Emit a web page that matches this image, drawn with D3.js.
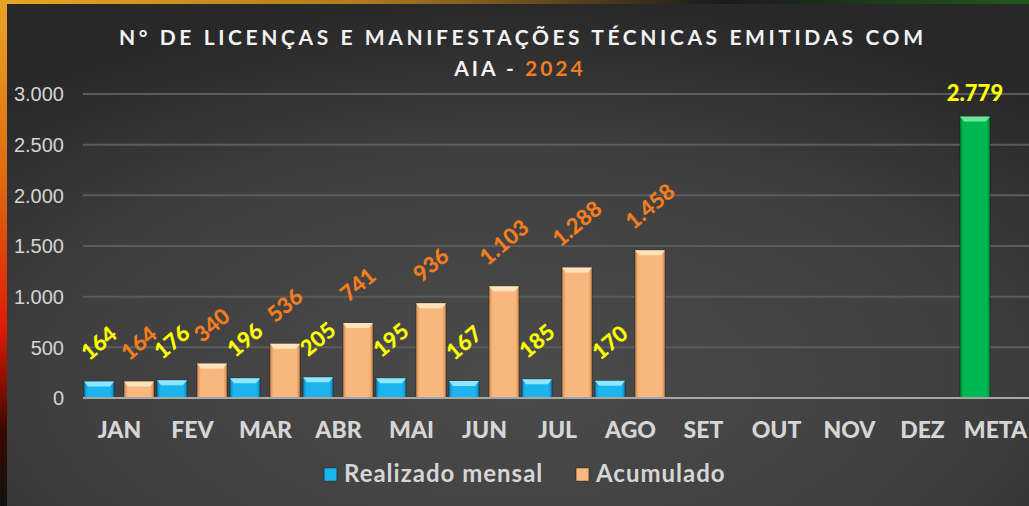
<!DOCTYPE html>
<html>
<head>
<meta charset="utf-8">
<script src="https://cdn.jsdelivr.net/npm/d3@7"></script>
<style>
  body { margin: 0; background: #2b2b2b; }
  svg { display: block; }
</style>
</head>
<body>
<div id="chart"></div>
<script>
// chart size
const width = 1029;
const height = 506;

// data
const months = ["JAN", "FEV", "MAR", "ABR", "MAI", "JUN", "JUL", "AGO", "SET", "OUT", "NOV", "DEZ", "META"];
const mensal = [164, 176, 196, 205, 195, 167, 185, 170, null, null, null, null, 2779];
const acumulado = [164, 340, 536, 741, 936, 1103, 1288, 1458, null, null, null, null, null];
const seriesNames = ["Realizado mensal", "Acumulado"];
const yTicks = [0, 500, 1000, 1500, 2000, 2500, 3000];

const locale = d3.formatLocale({ decimal: ",", thousands: ".", grouping: [3], currency: ["R$", ""] });
const fmt = locale.format(",d");

const svg = d3.select("#chart")
    .append("svg")
    .attr("width", width)
    .attr("height", height);

const defs = svg.append("defs");

// background gradients
const bg = defs.append("radialGradient").attr("id", "bg")
    .attr("cx", "50%").attr("cy", "75%").attr("r", "75%");
bg.append("stop").attr("offset", "0%").attr("stop-color", "#4b4b4b");
bg.append("stop").attr("offset", "60%").attr("stop-color", "#3f3f3f");
bg.append("stop").attr("offset", "100%").attr("stop-color", "#282828");

const edge = defs.append("linearGradient").attr("id", "edge")
    .attr("x1", 0).attr("y1", 0).attr("x2", 0).attr("y2", 1);
edge.append("stop").attr("offset", "0%").attr("stop-color", "#e8a425");
edge.append("stop").attr("offset", "35%").attr("stop-color", "#e06a10");
edge.append("stop").attr("offset", "65%").attr("stop-color", "#e01a00");
edge.append("stop").attr("offset", "85%").attr("stop-color", "#3a0800");
edge.append("stop").attr("offset", "100%").attr("stop-color", "#111");

const topEdge = defs.append("linearGradient").attr("id", "topEdge")
    .attr("x1", 0).attr("y1", 0).attr("x2", 1).attr("y2", 0);
topEdge.append("stop").attr("offset", "0%").attr("stop-color", "#e8a425");
topEdge.append("stop").attr("offset", "35%").attr("stop-color", "#b07a20");
topEdge.append("stop").attr("offset", "70%").attr("stop-color", "#1a1a1a");
topEdge.append("stop").attr("offset", "100%").attr("stop-color", "#1f5a1a");

// bar gradients (bevelled look)
function barGrad(id, dark, mid) {
  const g = defs.append("linearGradient").attr("id", id)
      .attr("x1", 0).attr("y1", 0).attr("x2", 1).attr("y2", 0);
  g.append("stop").attr("offset", "0%").attr("stop-color", dark);
  g.append("stop").attr("offset", "12%").attr("stop-color", mid);
  g.append("stop").attr("offset", "88%").attr("stop-color", mid);
  g.append("stop").attr("offset", "100%").attr("stop-color", dark);
}
barGrad("gBlue", "#0a86c0", "#1cb4ec");
barGrad("gOrange", "#d08a50", "#f8b77c");
barGrad("gGreen", "#008a3a", "#00b852");

svg.append("rect").attr("width", width).attr("height", height).attr("fill", "url(#bg)");
svg.append("rect").attr("width", 7).attr("height", height).attr("fill", "url(#edge)");
svg.append("rect").attr("x", 7).attr("width", width - 7).attr("height", 4).attr("fill", "url(#topEdge)");

// scales
const x = d3.scaleBand().domain(months).range([83, 1032]).paddingInner(0).paddingOuter(0);
const x1 = d3.scaleBand().domain(seriesNames).range([1, x.bandwidth() - 2]).paddingInner(0.25);
const y = d3.scaleLinear().domain([0, 3000]).range([398, 94]);

// grid + y labels
svg.append("g").selectAll("line")
    .data(yTicks.filter(d => d > 0))
    .join("line")
    .attr("x1", 83).attr("x2", width)
    .attr("y1", d => y(d)).attr("y2", d => y(d))
    .attr("stroke", "#5c5c5c").attr("stroke-width", 2);

svg.append("g").selectAll("text")
    .data(yTicks)
    .join("text")
    .attr("x", 64).attr("y", d => y(d))
    .attr("dy", "0.36em")
    .attr("text-anchor", "end")
    .attr("font-family", "Liberation Sans, Arial, sans-serif")
    .attr("font-size", 20)
    .attr("fill", "#d4d4d4")
    .text(d => fmt(d));

// bars
const rows = [];
months.forEach((m, i) => {
  if (mensal[i] != null) rows.push({ m, s: seriesNames[0], v: mensal[i], meta: m === "META" });
  if (acumulado[i] != null) rows.push({ m, s: seriesNames[1], v: acumulado[i], meta: false });
});

const bars = svg.append("g").selectAll("g")
    .data(rows)
    .join("g")
    .attr("transform", d => `translate(${x(d.m) + x1(d.s)},0)`);

bars.append("rect")
    .attr("x", 0).attr("width", x1.bandwidth())
    .attr("y", d => y(d.v)).attr("height", d => y(0) - y(d.v))
    .attr("fill", d => d.meta ? "url(#gGreen)" : (d.s === seriesNames[0] ? "url(#gBlue)" : "url(#gOrange)"))
    .attr("stroke", "rgba(0,0,0,0.35)").attr("stroke-width", 1);

// bevel top highlight
bars.append("path")
    .attr("d", d => {
      const w = x1.bandwidth(), t = y(d.v);
      return `M0,${t} L${w},${t} L${w - 4},${t + 5} L4,${t + 5} Z`;
    })
    .attr("fill", d => d.meta ? "#6fe39a" : (d.s === seriesNames[0] ? "#8ee6ff" : "#ffe3bd"));

// value labels
const angle = 40;
const labels = bars.append("text")
    .attr("font-family", "Lato, sans-serif")
    .attr("font-weight", 900)
    .attr("font-size", 22)
    .attr("text-anchor", "middle")
    .attr("fill", d => d.s === seriesNames[1] ? "#f47d20" : "#ffff00")
    .text(d => fmt(d.v));

labels.each(function(d) {
  const cx = x1.bandwidth() / 2;
  const top = y(d.v);
  if (d.meta) {
    d3.select(this).attr("x", cx).attr("y", top - 15);
  } else {
    const w = this.getComputedTextLength();
    const cy = top - 26 - (w / 2) * Math.sin(angle * Math.PI / 180);
    d3.select(this)
      .attr("dy", "0.35em")
      .attr("transform", `translate(${cx},${cy}) rotate(${-angle})`);
  }
});

// baseline
svg.append("line")
    .attr("x1", 83).attr("x2", width)
    .attr("y1", y(0)).attr("y2", y(0))
    .attr("stroke", "#a6a6a6").attr("stroke-width", 2);

// x labels
svg.append("g").selectAll("text")
    .data(months)
    .join("text")
    .attr("x", d => x(d) + x.bandwidth() / 2)
    .attr("y", 438)
    .attr("text-anchor", "middle")
    .attr("font-family", "Lato, sans-serif")
    .attr("font-weight", 900)
    .attr("font-size", 23)
    .attr("fill", "#d6d6d6")
    .text(d => d);

// title
svg.append("text")
    .attr("x", 119).attr("y", 45)
    .attr("textLength", 804).attr("lengthAdjust", "spacing")
    .attr("font-family", "Lato, sans-serif")
    .attr("font-weight", 700)
    .attr("font-size", 21)
    .attr("fill", "#f2f2f2")
    .text("N° DE LICENÇAS E MANIFESTAÇÕES TÉCNICAS EMITIDAS COM");

const t2 = svg.append("text")
    .attr("x", 520).attr("y", 76)
    .attr("text-anchor", "middle")
    .attr("font-family", "Lato, sans-serif")
    .attr("font-weight", 700)
    .attr("font-size", 21)
    .attr("letter-spacing", 3)
    .attr("fill", "#f2f2f2");
t2.append("tspan").text("AIA - ");
t2.append("tspan").attr("fill", "#f47d20").text("2024");

// legend
const legend = svg.append("g");
const legendItems = [
  { name: seriesNames[0], x: 324, fill: "url(#gBlue)" },
  { name: seriesNames[1], x: 576, fill: "url(#gOrange)" }
];
const li = legend.selectAll("g").data(legendItems).join("g")
    .attr("transform", d => `translate(${d.x},468)`);
li.append("rect").attr("width", 13).attr("height", 13)
    .attr("fill", d => d.fill).attr("stroke", "rgba(0,0,0,0.3)");
li.append("text")
    .attr("x", 20).attr("y", 14)
    .attr("font-family", "Lato, sans-serif")
    .attr("font-weight", 700)
    .attr("font-size", 24)
    .attr("letter-spacing", 1)
    .attr("fill", "#d6d6d6")
    .text(d => d.name);
</script>
</body>
</html>
